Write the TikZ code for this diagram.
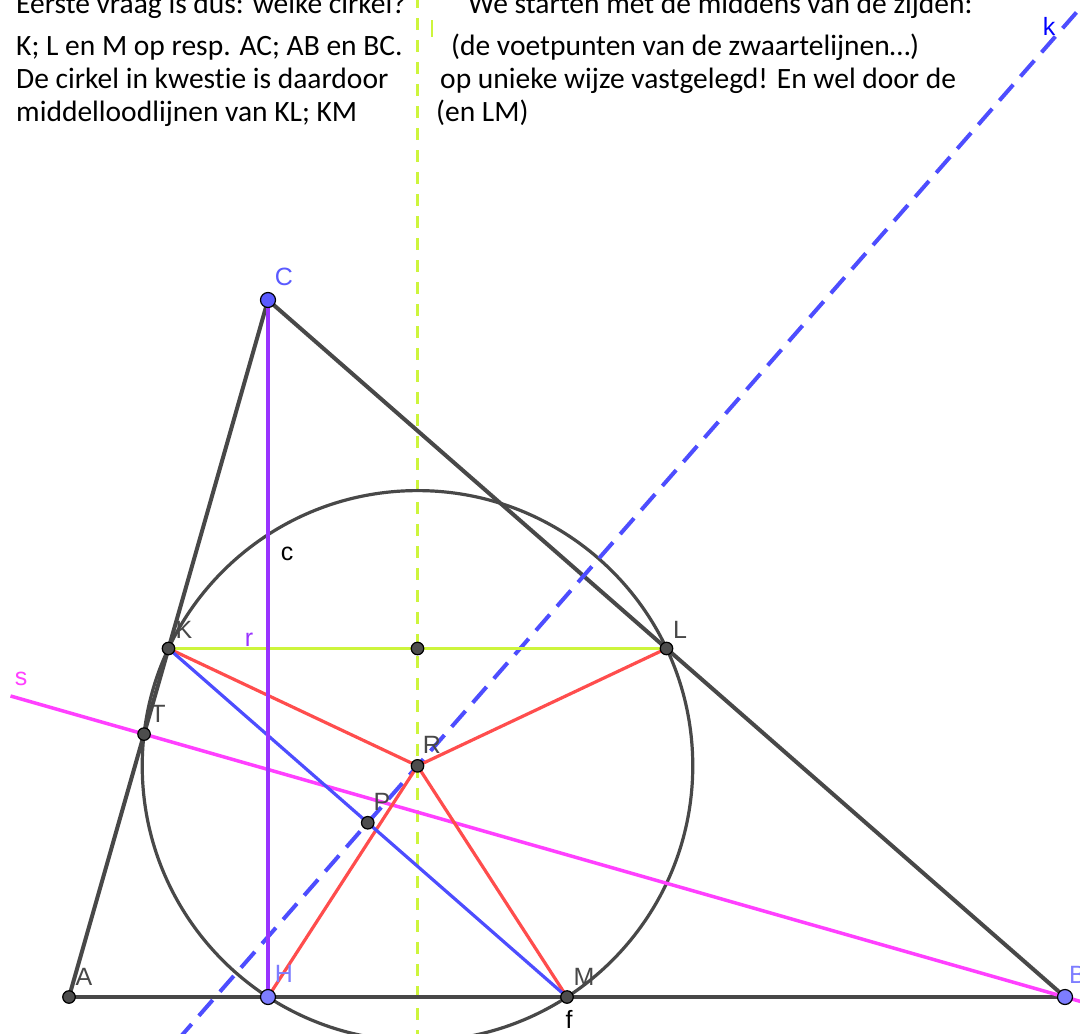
\documentclass[tikz,border=0pt]{standalone}
\usepackage{fontspec}
\setmainfont{Carlito}[Ligatures=NoCommon]
\newfontfamily\labfont{Liberation Sans}
\usetikzlibrary{calc}
\definecolor{ggdark}{RGB}{72,72,72}
\definecolor{ggred}{RGB}{255,77,77}
\definecolor{ggblue}{RGB}{77,77,255}
\definecolor{ggpurple}{RGB}{153,51,255}
\definecolor{ggmag}{RGB}{255,64,255}
\definecolor{ggyel}{RGB}{205,245,60}
\definecolor{ggpt}{RGB}{90,90,255}
\definecolor{gglight}{RGB}{125,125,255}
\definecolor{ggdot}{RGB}{77,77,77}
\begin{document}
\begin{tikzpicture}[x=1pt,y=-1pt,
  side/.style={draw=ggdark,line width=4pt},
  circ/.style={draw=ggdark,line width=3.2pt},
  redseg/.style={draw=ggred,line width=3.2pt},
  blueseg/.style={draw=ggblue,line width=3.2pt},
  purpseg/.style={draw=ggpurple,line width=3.2pt},
  yelseg/.style={draw=ggyel,line width=3.5pt},
  vdash/.style={draw=ggyel,line width=3pt,dash pattern=on 12pt off 10pt},
  kdash/.style={draw=ggblue,line width=4pt,dash pattern=on 21pt off 11pt},
  magline/.style={draw=ggmag,line width=3.5pt},
  dot/.style={circle,draw=black,line width=1.2pt,fill=ggdot,inner sep=0,minimum size=12.5pt},
  bdot/.style={circle,draw=black,line width=1.2pt,fill=ggpt,inner sep=0,minimum size=15pt},
  ldot/.style={circle,draw=black,line width=1.2pt,fill=gglight,inner sep=0,minimum size=15pt},
  lbl/.style={inner sep=0,font=\labfont\fontsize{25}{25}\selectfont},
  txt/.style={inner sep=0,anchor=base west,font=\fontsize{29.5}{33}\selectfont}]
\useasboundingbox (0,0) rectangle (1080,1034);
\clip (0,0) rectangle (1080,1034);
\fill[white] (0,0) rectangle (1080,1034);
% points
\coordinate (A) at (69,997);
\coordinate (B) at (1065,997);
\coordinate (C) at (268,300);
\coordinate (K) at ($(A)!0.5!(C)$);
\coordinate (L) at ($(B)!0.5!(C)$);
\coordinate (M) at ($(A)!0.5!(B)$);
\coordinate (H) at ($(A)!(C)!(B)$);
\coordinate (T) at ($(A)!(B)!(C)$);
\coordinate (N) at ($(K)!0.5!(L)$);
\coordinate (P) at ($(K)!0.5!(M)$);
\coordinate (R) at (417.5,765.86);
\coordinate (vTop) at (417.5,-4);
\coordinate (vBot) at (417.5,1040);
\coordinate (kS) at (177.8,1039.9);
\coordinate (kE) at (1094.4,-8.1);
\coordinate (sL) at ($(B)!1.145!(T)$);
\coordinate (sR) at ($(T)!1.03!(B)$);
\coordinate (m1) at (432,20);
\coordinate (m2) at (432,37);
% text
\node[txt] (t1) at (16,13) {Eerste vraag is dus: welke cirkel?};
\node[txt] (t2) at (16,55) {K; L en M op resp. AC; AB en BC.};
\node[txt] (t3) at (16,88) {De cirkel in kwestie is daardoor};
\node[txt] (t4) at (16,121) {middelloodlijnen van KL; KM};
\node[txt] (u1) at (468,13) {We starten met de middens van de zijden:};
\node[txt] (u2) at (451,55) {(de voetpunten van de zwaartelijnen…)};
\node[txt] (u3) at (440,88) {op unieke wijze vastgelegd! En wel door de};
\node[txt] (u4) at (436,121) {(en LM)};
% lines
\draw[vdash] (vTop) -- (vBot);
\draw[draw=ggyel,line width=2pt] (m1) -- (m2);
\draw[circ] (R) circle[radius=275.27pt];
\draw[side] (A) -- (B);
\draw[side] (A) -- (C);
\draw[side] (B) -- (C);
\draw[kdash] (kS) -- (kE);
\draw[magline] (sL) -- (sR);
\draw[yelseg] (K) -- (L);
\draw[redseg] (R) -- (K);
\draw[redseg] (R) -- (L);
\draw[redseg] (R) -- (M);
\draw[redseg] (R) -- (H);
\draw[blueseg] (K) -- (M);
\draw[purpseg] (C) -- (H);
% dots
\node[dot] (dA) at (A) {};
\node[ldot] (dB) at (B) {};
\node[bdot] (dC) at (C) {};
\node[ldot] (dH) at (H) {};
\node[dot] (dM) at (M) {};
\node[dot] (dK) at (K) {};
\node[dot] (dL) at (L) {};
\node[dot] (dT) at (T) {};
\node[dot] (dN) at (N) {};
\node[dot] (dP) at (P) {};
\node[dot] (dR) at (R) {};
% labels
\node[lbl,text=ggpt] (lC) at (284,277) {C};
\node[lbl,text=ggdark] (lA) at (84,977) {A};
\node[lbl,text=gglight] (lH) at (284,974) {H};
\node[lbl,text=ggdark] (lM) at (584,977) {M};
\node[lbl,text=black] (lf) at (569,1019) {f};
\node[lbl,text=gglight,anchor=west] (lB) at (1069,975) {B};
\node[lbl,text=ggdark] (lK) at (184,630) {K};
\node[lbl,text=ggdark] (lL) at (680,630) {L};
\node[lbl,text=ggdark] (lT) at (158,714) {T};
\node[lbl,text=ggdark] (lR) at (432,745) {R};
\node[lbl,text=ggdark] (lP) at (382,802) {P};
\node[lbl,text=ggpurple] (lr) at (249,640) {r};
\node[lbl,text=black] (lc) at (287,554) {c};
\node[lbl,text=ggmag] (ls) at (21,679) {s};
\node[lbl,text=blue] (lk) at (1049,26) {k};
\end{tikzpicture}
\end{document}
